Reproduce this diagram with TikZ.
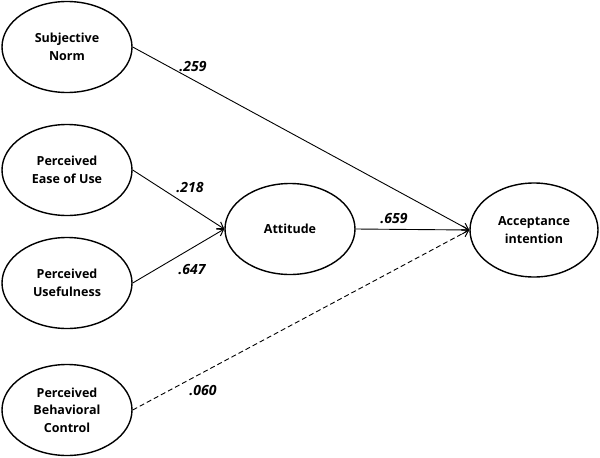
\documentclass[tikz,border=0pt]{standalone}
\usepackage{fontspec}
\setmainfont{Open Sans}
\usetikzlibrary{shapes.geometric,arrows.meta}
\begin{document}
\begin{tikzpicture}[x=1pt,y=-1pt,
  construct/.style={draw,ellipse,line width=1.4pt,minimum width=130pt,minimum height=91pt,inner sep=0pt,align=center,font=\fontsize{12.5}{17.5}\selectfont\bfseries},
  path/.style={line width=0.9pt,-{Straight Barb[length=6pt,width=8pt,line width=1pt]}},
  coef/.style={font=\fontsize{14}{16}\selectfont\bfseries\itshape}]
\useasboundingbox (0,0) rectangle (600,458);
\node[construct] (sn) at (67,47) {Subjective\\Norm};
\node[construct] (eou) at (67,170) {Perceived\\Ease of Use};
\node[construct] (pu) at (67,283) {Perceived\\Usefulness};
\node[construct] (pbc) at (67,410) {Perceived\\Behavioral\\Control};
\node[construct] (att) at (290,229) {Attitude};
\node[construct,minimum width=128pt,minimum height=94pt] (ai) at (534,230) {Acceptance\\intention};
\draw[path] (sn.east) -- (ai.west);
\draw[path] (eou.east) -- (att.west);
\draw[path] (pu.east) -- (att.west);
\draw[path] (att.east) -- (ai.west);
\draw[path,dashed,dash pattern=on 5pt off 3pt] (pbc.east) -- (ai.west);
\node[coef] (l1) at (193,67) {.259};
\node[coef] (l2) at (190,188) {.218};
\node[coef] (l3) at (192,270) {.647};
\node[coef] (l4) at (394,219) {.659};
\node[coef] (l5) at (203,391) {.060};
\end{tikzpicture}
\end{document}
